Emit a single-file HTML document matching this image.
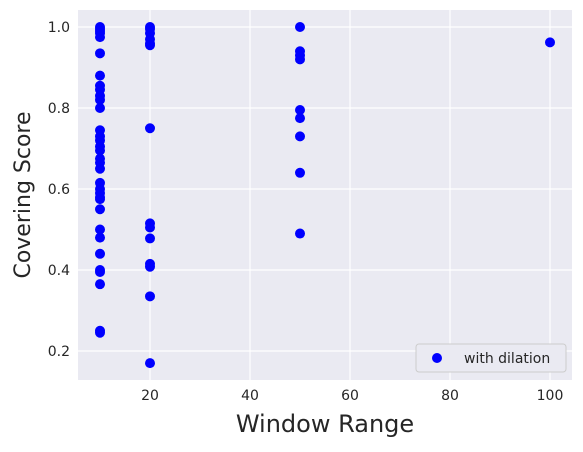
<!DOCTYPE html>
<html><head><meta charset="utf-8"><style>
body{margin:0;background:#fff;font-family:"Liberation Sans","DejaVu Sans",sans-serif}
</style></head><body>
<svg id="chart" width="583" height="447" xmlns="http://www.w3.org/2000/svg" font-family="'DejaVu Sans','Liberation Sans',sans-serif">
<rect x="78" y="10" width="494" height="370" fill="#eaeaf2"/>
<g id="grid"></g><g id="ticks"></g><g id="points"></g>
<text x="325" y="432" font-size="24" text-anchor="middle" fill="#262626">Window Range</text>
<text transform="translate(30,195) rotate(-90)" font-size="22" text-anchor="middle" fill="#262626">Covering Score</text>
<g>
<rect x="416" y="344" width="150" height="28" rx="3" fill="#eaeaf2" stroke="#cccccc"/>
<circle cx="437" cy="358" r="5" fill="#0000ff"/>
<text x="464" y="363" font-size="14" fill="#262626">with dilation</text>
</g>
</svg>
<script>
const xTicks=[20,40,60,80,100];
const yTicks=[0.2,0.4,0.6,0.8,1.0];
const xValues=[10,10,10,10,10,10,10,10,10,10,10,10,10,10,10,10,10,10,10,10,10,10,10,10,10,10,10,10,10,10,10,10,10,10,
20,20,20,20,20,20,20,20,20,20,20,20,20,20,
50,50,50,50,50,50,50,50,50,100];
const yValues=[1.0,0.995,0.99,0.985,0.975,0.935,0.88,0.855,0.845,0.83,0.82,0.80,0.745,0.73,0.72,0.705,0.695,0.675,0.665,0.65,0.615,0.60,0.59,0.58,0.575,0.55,0.50,0.48,0.44,0.40,0.395,0.365,0.25,0.245,
1.0,0.995,0.985,0.97,0.96,0.955,0.75,0.515,0.505,0.478,0.415,0.408,0.335,0.17,
1.0,0.94,0.93,0.92,0.795,0.775,0.73,0.64,0.49,0.962];
const X=v=>100+(v-10)*5;
const Y=v=>27+(1-v)*405;
const NS="http://www.w3.org/2000/svg";
const g=document.getElementById('grid'),t=document.getElementById('ticks'),p=document.getElementById('points');
function mk(tag,a,parent){const e=document.createElementNS(NS,tag);for(const k in a)e.setAttribute(k,a[k]);parent.appendChild(e);return e;}
xTicks.forEach(v=>{
 const l=mk('line',{x1:X(v),x2:X(v),y1:10,y2:380,stroke:'#fff','stroke-width':1.2},g);
 
 
 const tx=mk('text',{x:X(v),y:400,'font-size':14,'text-anchor':'middle',fill:'#262626'},t);
 tx.textContent=v;
 
 
});
yTicks.forEach(v=>{
 const l=mk('line',{x1:78,x2:572,y1:Y(v),y2:Y(v),stroke:'#fff','stroke-width':1.2},g);
 
 
 const tx=mk('text',{x:70,y:Y(v)+5,'font-size':14,'text-anchor':'end',fill:'#262626'},t);
 tx.textContent=v.toFixed(1);
 
 
});
xValues.forEach((x,i)=>{
 const c=mk('circle',{cx:X(x),cy:Y(yValues[i]),r:5,fill:'#0000ff'},p);
 
 
});
</script>
</body></html>
